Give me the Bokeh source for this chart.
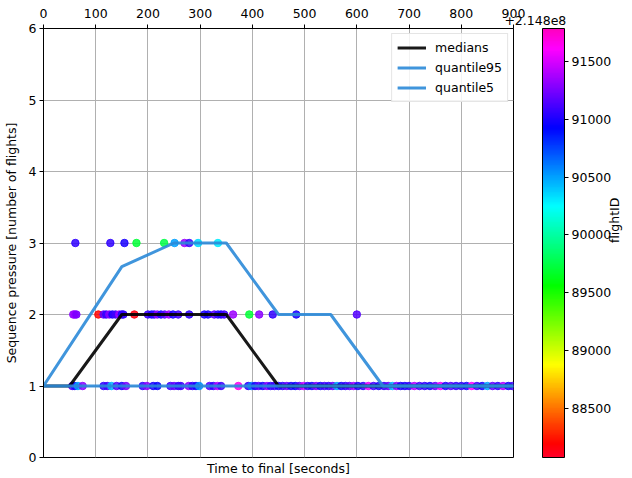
import numpy as np
from bokeh.plotting import figure
from bokeh.models import (ColumnDataSource, LinearColorMapper, ColorBar, FixedTicker,
                          LinearAxis, Legend, LegendItem, Range1d)
from bokeh.embed import file_html
from bokeh.resources import INLINE

FONT = "DejaVu Sans"
FS = "12.5px"

# ---------------- data ----------------
x_ticks = [0, 100, 200, 300, 400, 500, 600, 700, 800, 900]
y_ticks = [0, 1, 2, 3, 4, 5, 6]
cbar_ticks = [88500, 89000, 89500, 90000, 90500, 91000, 91500]
cbar_low = 88076
cbar_high = 91785
id_offset_label = "+2.148e8"

# medians / quantiles
med_x = [0, 50, 150, 350, 450, 900]
med_y = [1, 1, 2, 2, 1, 1]
q95_x = [0, 150, 250, 350, 450, 550, 650, 900]
q95_y = [1, 2.67, 3, 3, 2, 2, 1, 1]
q5_x = [0, 900]
q5_y = [1, 1]

# scatter rows (flightID relative to 2.148e8)
x_row1 = [55, 60, 66, 75, 115, 122, 130, 140, 150, 158, 190, 198, 210, 218, 243, 250, 258, 263,
          278, 285, 292, 298, 318, 325, 333, 340, 373, 392, 398, 405, 412, 420, 428, 435, 442,
          450, 458, 466, 474, 482, 490, 498, 506, 514, 522, 530, 538, 546, 554, 562, 570, 578,
          586, 594, 602, 612, 622, 632, 642, 652, 660, 668, 676, 684, 692, 700, 710, 720, 730,
          740, 750, 760, 770, 780, 790, 800, 810, 820, 830, 840, 850, 860, 870, 880, 890, 898]
id_row1 = [91150, 91000, 90500, 91300, 91050, 91100, 90450, 91150, 91000, 91250,
           91050, 91300, 91000, 90950, 91100, 91200, 91050, 91100, 91300, 91050, 91000, 90550,
           91150, 91050, 91400, 91100, 91650, 91050, 90600, 91000, 91150, 91000, 91300, 91050,
           91100, 91000, 91050, 91200, 91000, 90950, 91150, 91450, 91050, 91000, 91250, 91000,
           91100, 91050, 91200, 90500, 91000, 91050, 91150, 91350, 91000, 91050, 91550, 91100,
           91000, 91050, 91200, 90450, 91300, 91000, 91000, 91050, 91400, 91100, 91050, 91000,
           91200, 91550, 91000, 91150, 91050, 91050, 91000, 91600, 91100, 91000, 90500, 91200,
           91050, 91400, 91000, 91100]
x_row2 = [57, 60, 63, 105, 115, 120, 126, 132, 138, 145, 150, 153, 174, 200, 207, 212, 218, 225,
          232, 240, 248, 258, 279, 308, 315, 327, 334, 340, 346, 363, 394, 413, 439, 484, 600]
id_row2 = [91300, 91350, 91250, 88200, 91200, 91050, 91300, 91000, 91100, 91350, 91000, 91050,
           88150, 91100, 91000, 91050, 91300, 91000, 91150, 91350, 91000, 91100, 91050, 91000,
           91000, 91150, 91050, 91000, 91100, 91350, 89700, 91300, 91050, 91000, 91150]
x_row3 = [61, 128, 155, 178, 231, 251, 270, 279, 296, 334]
id_row3 = [91050, 91050, 91000, 89700, 89750, 90500, 91350, 91100, 90350, 90300]

pts_x = x_row1 + x_row2 + x_row3
pts_y = [1] * len(x_row1) + [2] * len(x_row2) + [3] * len(x_row3)
pts_id = id_row1 + id_row2 + id_row3

# ---------------- gist_rainbow palette ----------------
stops = [(0.000, (1.00, 0.00, 0.16)), (0.030, (1.00, 0.00, 0.00)), (0.215, (1.00, 1.00, 0.00)),
         (0.400, (0.00, 1.00, 0.00)), (0.586, (0.00, 1.00, 1.00)), (0.770, (0.00, 0.00, 1.00)),
         (0.954, (1.00, 0.00, 1.00)), (1.000, (1.00, 0.00, 0.75))]
sp = np.array([s for s, _ in stops])
sc = np.array([c for _, c in stops])
t = np.linspace(0, 1, 256)
rr = np.interp(t, sp, sc[:, 0])
gg = np.interp(t, sp, sc[:, 1])
bb = np.interp(t, sp, sc[:, 2])
palette = ["#%02x%02x%02x" % (int(round(a * 255)), int(round(b * 255)), int(round(c * 255)))
           for a, b, c in zip(rr, gg, bb)]
mapper = LinearColorMapper(palette=palette, low=cbar_low, high=cbar_high)

BLUE = "#2b8ad8"

# ---------------- figure ----------------
p = figure(width=632, height=478, x_range=Range1d(0, 900), y_range=Range1d(0, 6),
           x_axis_location="above", output_backend="svg", toolbar_location=None,
           min_border_left=42, min_border_right=119, min_border_top=28, min_border_bottom=21)
p.background_fill_color = "white"
p.border_fill_color = "white"
p.outline_line_color = "black"
p.outline_line_width = 1
p.outline_line_alpha = 1

p.xgrid.ticker = FixedTicker(ticks=x_ticks)
p.ygrid.ticker = FixedTicker(ticks=y_ticks)
for g in (p.xgrid, p.ygrid):
    g.grid_line_color = "#b0b0b0"
    g.grid_line_width = 1

top = p.xaxis[0]
top.ticker = FixedTicker(ticks=x_ticks)
left = p.yaxis[0]
left.ticker = FixedTicker(ticks=y_ticks)
left.axis_label = "Sequence pressure [number of flights]"
for ax in (top, left):
    ax.axis_line_color = "black"
    ax.major_tick_line_color = "black"
    ax.major_tick_out = 4
    ax.major_tick_in = 0
    ax.minor_tick_line_color = None
    ax.major_label_text_font = FONT
    ax.major_label_text_font_size = FS
    ax.major_label_text_color = "black"
    ax.major_label_standoff = 3
    ax.axis_label_text_font = FONT
    ax.axis_label_text_font_size = FS
    ax.axis_label_text_font_style = "normal"
    ax.axis_label_text_color = "black"
top.major_label_standoff = 7
left.axis_label_standoff = 7

# offset text of the colour scale, as the only label of a zero-height top axis
off_axis = LinearAxis(ticker=FixedTicker(ticks=[900]),
                      major_label_overrides={900: "\u00a0" * 11 + id_offset_label})
off_axis.axis_line_color = None
off_axis.major_tick_line_color = None
off_axis.minor_tick_line_color = None
off_axis.major_tick_out = 0
off_axis.major_tick_in = 0
off_axis.major_label_standoff = -22
off_axis.major_label_text_font = FONT
off_axis.major_label_text_font_size = FS
off_axis.major_label_text_color = "black"
p.add_layout(off_axis, "above")

bottom = LinearAxis(ticker=FixedTicker(ticks=[]), axis_label="Time to final [seconds]")
bottom.axis_line_color = None
bottom.major_tick_line_color = None
bottom.minor_tick_line_color = None
bottom.axis_label_text_font = FONT
bottom.axis_label_text_font_size = FS
bottom.axis_label_text_font_style = "normal"
bottom.axis_label_text_color = "black"
bottom.axis_label_standoff = 3
p.add_layout(bottom, "below")

# scatter (beneath lines, like matplotlib's default z-order)
src = ColumnDataSource(dict(x=pts_x, y=pts_y, fid=pts_id))
p.scatter("x", "y", source=src, size=7.5,
          fill_color={"field": "fid", "transform": mapper},
          line_color={"field": "fid", "transform": mapper},
          fill_alpha=0.85, line_alpha=0.85)

r_med = p.line(med_x, med_y, line_color="black", line_width=3, line_alpha=0.9)
r_q95 = p.line(q95_x, q95_y, line_color=BLUE, line_width=3, line_alpha=0.9)
r_q5 = p.line(q5_x, q5_y, line_color=BLUE, line_width=3, line_alpha=0.9)

legend = Legend(items=[LegendItem(label="medians", renderers=[r_med]),
                       LegendItem(label="quantile95", renderers=[r_q95]),
                       LegendItem(label="quantile5", renderers=[r_q5])],
                location="top_right")
legend.label_text_font = FONT
legend.label_text_font_size = FS
legend.label_text_color = "black"
legend.glyph_width = 29
legend.glyph_height = 17
legend.spacing = 3
legend.label_standoff = 9
legend.padding = 5
legend.margin = 5
legend.border_line_color = "#cccccc"
legend.border_line_width = 1
legend.background_fill_alpha = 0.85
p.add_layout(legend)

cbar = ColorBar(color_mapper=mapper, ticker=FixedTicker(ticks=cbar_ticks), width=22, height=429,
                margin=0, padding=0, location=(29, 0))
cbar.bar_line_color = "black"
cbar.bar_line_width = 1
cbar.major_tick_line_color = "black"
cbar.major_tick_out = 4
cbar.major_tick_in = 0
cbar.minor_tick_line_color = None
cbar.major_label_text_font = FONT
cbar.major_label_text_font_size = FS
cbar.major_label_text_color = "black"
cbar.label_standoff = 3
cbar.background_fill_color = None
cbar.border_line_color = None
p.add_layout(cbar, "right")

# vertical "flightID" caption, drawn as the single label of a bare right-hand axis
fid_axis = LinearAxis(ticker=FixedTicker(ticks=[3]), major_label_overrides={3: "flightID"})
fid_axis.major_label_orientation = np.pi / 2
fid_axis.axis_line_color = None
fid_axis.major_tick_line_color = None
fid_axis.minor_tick_line_color = None
fid_axis.major_label_text_font = FONT
fid_axis.major_label_text_font_size = FS
fid_axis.major_label_text_color = "black"
fid_axis.major_label_standoff = -6
p.add_layout(fid_axis, "right")

open("out.html", "w").write(file_html(p, INLINE))
